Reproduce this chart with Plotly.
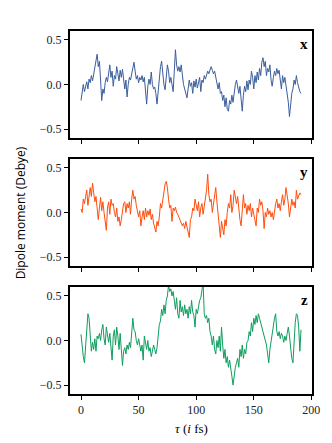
import plotly.graph_objects as go
from plotly.subplots import make_subplots

# time axis (fs), one sample per fs
tau = list(range(192))

dip_x = [
    -0.18, -0.10, 0.00, -0.08, -0.02, 0.03, -0.05, 0.06, 0.02, 0.10,
    0.04, 0.12, 0.22, 0.28, 0.34, 0.20, 0.26, 0.05, -0.18, -0.05,
    -0.10, 0.02, 0.08, 0.03, 0.12, 0.22, 0.08, 0.15, -0.02, 0.10,
    0.06, 0.20, 0.12, 0.04, 0.16, 0.08, 0.17, 0.02, -0.05, 0.05,
    -0.14, 0.00, 0.08, 0.05, 0.12, 0.18, 0.25, 0.15, 0.06, 0.10,
    0.02, 0.08, 0.05, 0.10, 0.03, 0.08, -0.05, -0.22, -0.02, 0.06,
    0.00, 0.14, 0.00, -0.05, -0.03, -0.10, -0.22, -0.05, 0.08, 0.20,
    0.26, 0.12, 0.00, -0.06, 0.10, 0.22, 0.15, 0.02, 0.08, -0.02,
    -0.08, 0.15, 0.39, 0.22, 0.15, 0.20, 0.14, 0.22, 0.10, 0.00,
    -0.05, -0.10, -0.15, -0.05, 0.05, -0.02, 0.02, -0.10, 0.04, -0.03,
    0.06, -0.04, 0.02, 0.08, -0.08, 0.05, 0.02, 0.10, 0.06, 0.12,
    0.15, 0.12, 0.18, 0.20, 0.16, 0.12, 0.15, 0.08, 0.05, -0.05,
    0.02, -0.10, -0.08, -0.18, -0.12, -0.25, -0.15, -0.28, -0.30, -0.18,
    -0.22, -0.12, -0.20, -0.08, 0.00, 0.05, -0.05, -0.10, -0.02, -0.15,
    -0.30, -0.12, -0.02, -0.08, 0.04, -0.06, 0.05, 0.00, 0.15, 0.08,
    -0.05, 0.10, 0.02, 0.14, 0.05, 0.18, 0.10, 0.25, 0.30, 0.20,
    0.26, 0.10, 0.18, 0.14, 0.22, 0.05, -0.02, 0.08, 0.15, 0.10,
    0.18, 0.12, 0.16, 0.05, -0.05, 0.10, 0.02, 0.08, -0.02, -0.08,
    -0.20, -0.36, -0.20, -0.10, -0.05, 0.05, 0.00, 0.10, 0.02, -0.05,
    -0.08, -0.10,
]

dip_y = [
    0.04, 0.00, 0.15, 0.10, 0.18, 0.25, 0.08, 0.20, 0.28, 0.18,
    0.33, 0.22, 0.12, 0.18, 0.05, -0.08, 0.05, 0.17, 0.02, 0.12,
    0.00, -0.10, -0.20, 0.05, 0.12, -0.02, 0.15, 0.08, 0.10, 0.00,
    -0.05, 0.05, -0.10, -0.05, -0.15, -0.08, 0.02, 0.10, 0.12, 0.00,
    0.10, 0.05, 0.12, -0.02, 0.15, 0.25, 0.15, 0.18, 0.08, 0.00,
    -0.05, 0.02, -0.15, -0.05, 0.02, -0.08, 0.05, -0.05, 0.02, -0.03,
    0.04, -0.08, -0.02, -0.12, -0.18, -0.22, -0.10, -0.15, -0.05, 0.10,
    0.05, 0.15, 0.28, 0.32, 0.35, 0.28, 0.15, 0.05, 0.08, -0.10,
    0.05, 0.02, 0.06, 0.00, -0.02, -0.05, -0.08, -0.10, -0.15, -0.12,
    -0.18, -0.10, -0.15, -0.20, -0.28, -0.08, -0.05, 0.05, 0.02, 0.15,
    0.10, 0.02, 0.12, -0.05, 0.05, 0.10, -0.02, 0.08, 0.15, 0.25,
    0.43, 0.20, 0.12, 0.15, 0.00, 0.10, 0.20, 0.28, 0.12, 0.00,
    -0.15, -0.28, -0.10, -0.20, -0.25, -0.08, -0.15, 0.00, 0.10, 0.05,
    0.20, 0.00, 0.08, 0.25, 0.15, 0.10, 0.18, 0.02, -0.08, -0.15,
    0.05, 0.20, 0.05, 0.10, -0.02, 0.08, 0.02, 0.10, -0.05, 0.05,
    -0.02, -0.10, -0.15, 0.05, 0.00, 0.15, 0.08, 0.12, 0.02, -0.18,
    0.00, -0.05, 0.05, -0.02, 0.02, -0.05, 0.00, -0.08, 0.05, 0.10,
    0.15, 0.05, 0.10, 0.02, 0.12, 0.20, 0.08, 0.15, 0.28, 0.20,
    0.10, -0.05, 0.05, 0.15, 0.08, 0.12, 0.05, 0.25, 0.15, 0.20,
    0.22, 0.20,
]

dip_z = [
    0.07, -0.10, -0.18, -0.25, -0.05, 0.22, 0.30, 0.25, 0.05, -0.12,
    -0.02, -0.10, 0.02, -0.12, 0.05, 0.02, 0.08, 0.00, 0.12, 0.18,
    0.02, -0.05, 0.15, 0.05, -0.02, 0.08, -0.10, -0.22, 0.05, 0.12,
    -0.05, 0.15, 0.05, -0.10, 0.08, -0.15, -0.28, -0.12, -0.08, -0.15,
    -0.05, -0.10, -0.02, -0.08, 0.10, 0.25, 0.12, 0.10, 0.00, -0.05,
    0.02, -0.08, -0.12, -0.05, -0.22, 0.05, -0.02, -0.10, 0.00, -0.12,
    -0.08, -0.18, -0.12, -0.05, -0.10, -0.15, -0.08, 0.10, 0.18, 0.22,
    0.35, 0.28, 0.40, 0.30, 0.45, 0.50, 0.62, 0.55, 0.58, 0.50,
    0.55, 0.45, 0.35, 0.48, 0.30, 0.25, 0.45, 0.32, 0.38, 0.28,
    0.40, 0.30, 0.35, 0.25, 0.38, 0.30, 0.45, 0.32, 0.28, 0.15,
    0.35, 0.30, 0.40, 0.45, 0.48, 0.55, 0.65, 0.30, 0.25, 0.28,
    0.20, 0.25, 0.10, 0.05, -0.05, 0.05, -0.10, -0.15, 0.00, -0.08,
    0.05, -0.12, 0.15, -0.05, -0.20, -0.10, -0.25, -0.18, -0.30, -0.22,
    -0.35, -0.40, -0.50, -0.38, -0.30, -0.25, -0.20, -0.30, -0.10, -0.18,
    -0.05, -0.20, -0.10, -0.15, -0.02, 0.00, 0.10, 0.05, 0.20, 0.10,
    0.25, 0.18, 0.28, 0.20, 0.30, 0.25, 0.20, 0.15, 0.10, 0.05,
    0.00, -0.05, -0.15, -0.25, -0.10, 0.00, 0.05, 0.20, 0.25, 0.30,
    0.10, 0.05, 0.10, 0.02, 0.08, 0.05, -0.02, 0.05, 0.00, 0.08,
    0.15, 0.05, -0.10, -0.20, -0.25, 0.00, 0.20, 0.30, 0.28, 0.15,
    -0.12, 0.12,
]

components = ["x", "y", "z"]
series = [dip_x, dip_y, dip_z]
colors = ["#3b5e9c", "#ff4d0d", "#0d9e5e"]

serif = "Liberation Serif"
sans = "Open Sans"

fig = make_subplots(rows=3, cols=1, vertical_spacing=0.058)

for i, (name, vals, col) in enumerate(zip(components, series, colors), start=1):
    fig.add_trace(
        go.Scatter(x=tau, y=vals, mode="lines", name=name,
                   line=dict(color=col, width=1), showlegend=False),
        row=i, col=1,
    )
    # panel letter, top right inside the box
    xref = "x domain" if i == 1 else f"x{i} domain"
    yref = "y domain" if i == 1 else f"y{i} domain"
    fig.add_annotation(text=f"<b>{name}</b>", x=0.99, y=0.88, xref=xref, yref=yref,
                       xanchor="right", yanchor="middle", showarrow=False,
                       font=dict(family=serif, size=15, color="black"))

fig.update_xaxes(
    range=[-9.55, 200.55], tickvals=[0, 50, 100, 150, 200],
    showline=True, linewidth=2, linecolor="black", mirror=True,
    ticks="outside", ticklen=4, tickwidth=1, tickcolor="black",
    showgrid=False, zeroline=False,
    tickfont=dict(family=serif, size=12, color="#222"),
)
fig.update_yaxes(
    range=[-0.6, 0.6], tickvals=[-0.5, 0.0, 0.5], tickformat=".1f",
    showline=True, linewidth=2, linecolor="black", mirror=True,
    ticks="outside", ticklen=4, tickwidth=1, tickcolor="black",
    showgrid=False, zeroline=False,
    tickfont=dict(family=serif, size=12, color="#222"),
)
fig.update_xaxes(showticklabels=False, row=1, col=1)
fig.update_xaxes(showticklabels=False, row=2, col=1)

# shared axis labels
fig.add_annotation(text="Dipole moment (Debye)", x=-0.203, y=0.5, xref="paper", yref="paper",
                   textangle=-90, showarrow=False, xanchor="center", yanchor="middle",
                   font=dict(family=sans, size=12, color="black"))
fig.add_annotation(text="<i>τ</i> (<i>i</i> fs)", x=0.5, y=-0.094, xref="paper", yref="paper",
                   showarrow=False, xanchor="center", yanchor="middle",
                   font=dict(family=serif, size=13, color="black"))

fig.update_layout(
    width=332, height=443,
    margin=dict(l=70, r=16, t=31, b=49),
    paper_bgcolor="white", plot_bgcolor="white",
)

# drop the default page margin so the figure sits at the window's corner
fig.write_html("out.html", config={"displayModeBar": False},
               post_script="document.body.style.margin='0';")
